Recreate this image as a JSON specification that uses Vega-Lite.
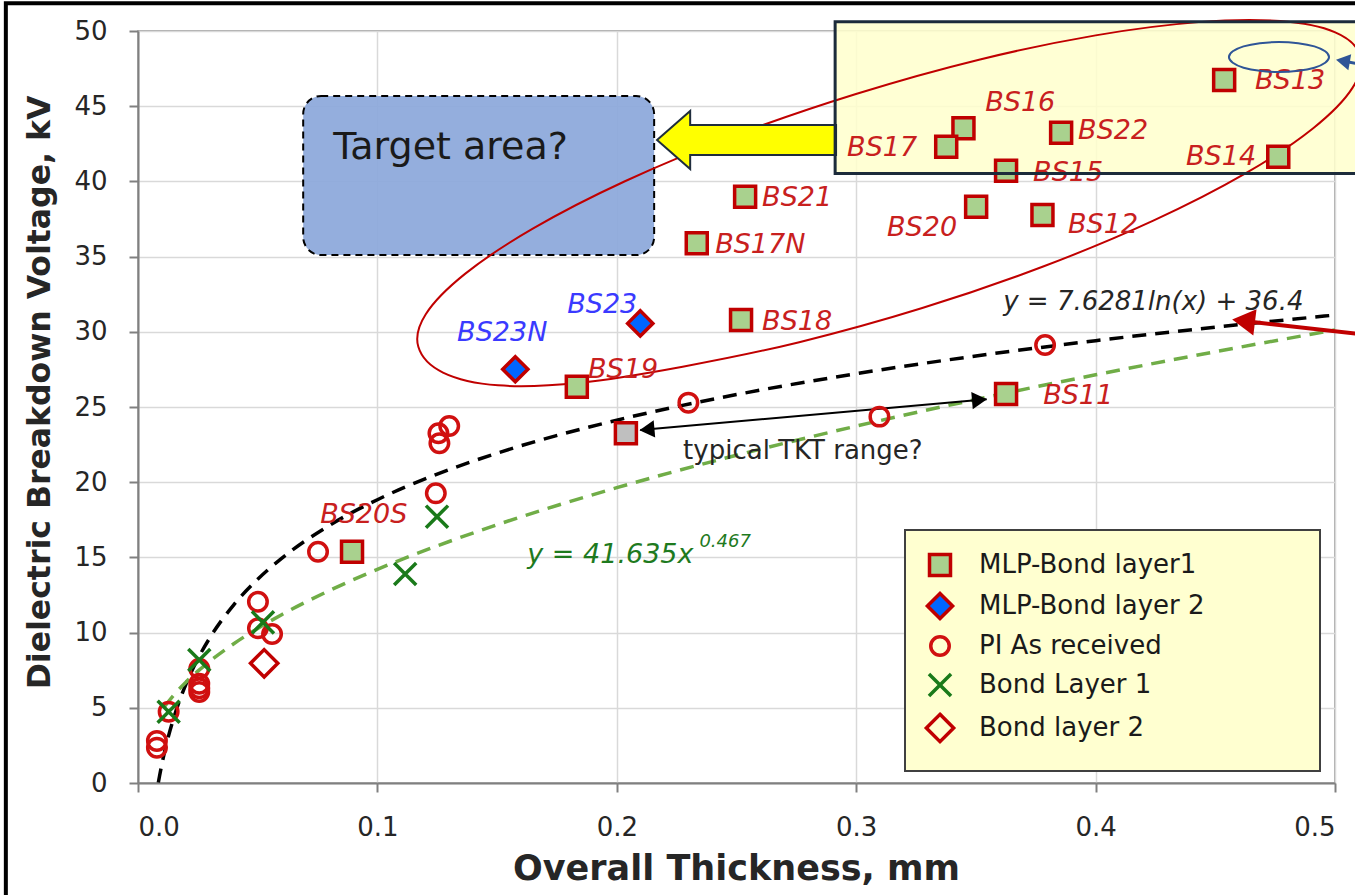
{
  "$schema": "https://vega.github.io/schema/vega-lite/v6.json",
  "width": 1197,
  "height": 752,
  "autosize": {"type": "none"},
  "padding": {"left": 138, "top": 31, "right": 20, "bottom": 112},
  "background": "white",
  "config": {
    "font": "DejaVu Sans",
    "view": {"stroke": "#8c8c8c", "strokeWidth": 1.5},
    "legend": {
      "orient": "none", "legendX": 767, "legendY": 499,
      "fillColor": "#ffffd0", "strokeColor": "#404040", "strokeWidth": 2,
      "padding": 22, "rowPadding": 3, "labelFontSize": 26, "labelColor": "#1a1a1a",
      "labelFont": "DejaVu Sans", "symbolSize": 441, "symbolStrokeWidth": 3.5, "labelOffset": 26,
      "labelLimit": 600
    }
  },
  "datasets": {
    "pts": [
      {"series": "MLP-Bond layer1", "id": "BS13", "x": 0.4537, "y": 46.74},
      {"series": "MLP-Bond layer1", "id": "BS16", "x": 0.3448, "y": 43.53},
      {"series": "MLP-Bond layer1", "id": "BS17", "x": 0.3376, "y": 42.31},
      {"series": "MLP-Bond layer1", "id": "BS22", "x": 0.3856, "y": 43.24},
      {"series": "MLP-Bond layer1", "id": "BS14", "x": 0.4763, "y": 41.64},
      {"series": "MLP-Bond layer1", "id": "BS15", "x": 0.3626, "y": 40.71},
      {"series": "MLP-Bond layer1", "id": "BS20", "x": 0.3501, "y": 38.32},
      {"series": "MLP-Bond layer1", "id": "BS12", "x": 0.3778, "y": 37.77},
      {"series": "MLP-Bond layer1", "id": "BS21", "x": 0.2536, "y": 38.98},
      {"series": "MLP-Bond layer1", "id": "BS17N", "x": 0.2334, "y": 35.88},
      {"series": "MLP-Bond layer1", "id": "BS18", "x": 0.2519, "y": 30.78},
      {"series": "MLP-Bond layer1", "id": "BS19", "x": 0.1833, "y": 26.35},
      {"series": "MLP-Bond layer1", "id": "BS11", "x": 0.3626, "y": 25.86},
      {"series": "MLP-Bond layer1", "id": "BS20S", "x": 0.0894, "y": 15.38},
      {"series": "MLP-Bond layer 2", "id": "BS23", "x": 0.2098, "y": 30.56},
      {"series": "MLP-Bond layer 2", "id": "BS23N", "x": 0.1576, "y": 27.51},
      {"series": "PI As received", "x": 0.0079, "y": 2.8},
      {"series": "PI As received", "x": 0.0079, "y": 2.35},
      {"series": "PI As received", "x": 0.0128, "y": 4.74},
      {"series": "PI As received", "x": 0.0256, "y": 7.6},
      {"series": "PI As received", "x": 0.0256, "y": 6.6},
      {"series": "PI As received", "x": 0.0256, "y": 6.3},
      {"series": "PI As received", "x": 0.0256, "y": 6.05},
      {"series": "PI As received", "x": 0.0501, "y": 12.05},
      {"series": "PI As received", "x": 0.0501, "y": 10.29},
      {"series": "PI As received", "x": 0.056, "y": 9.91},
      {"series": "PI As received", "x": 0.0752, "y": 15.38},
      {"series": "PI As received", "x": 0.1244, "y": 19.26},
      {"series": "PI As received", "x": 0.1259, "y": 22.59},
      {"series": "PI As received", "x": 0.1255, "y": 23.25},
      {"series": "PI As received", "x": 0.13, "y": 23.74},
      {"series": "PI As received", "x": 0.2299, "y": 25.29},
      {"series": "PI As received", "x": 0.3097, "y": 24.36},
      {"series": "PI As received", "x": 0.3789, "y": 29.12},
      {"series": "Bond Layer 1", "x": 0.0128, "y": 4.74},
      {"series": "Bond Layer 1", "x": 0.0256, "y": 8.18},
      {"series": "Bond Layer 1", "x": 0.0522, "y": 10.68},
      {"series": "Bond Layer 1", "x": 0.1116, "y": 13.9},
      {"series": "Bond Layer 1", "x": 0.1249, "y": 17.71},
      {"series": "Bond layer 2", "x": 0.0527, "y": 7.96}
    ],
    "tkt": [{"x": 0.2038, "y": 23.25}],
    "labels": [
      {"series": "MLP-Bond layer1", "text": "BS13", "x": 0.4666, "y": 46.68},
      {"series": "MLP-Bond layer1", "text": "BS16", "x": 0.3539, "y": 45.21},
      {"series": "MLP-Bond layer1", "text": "BS17", "x": 0.2962, "y": 42.22},
      {"series": "MLP-Bond layer1", "text": "BS22", "x": 0.3927, "y": 43.35},
      {"series": "MLP-Bond layer1", "text": "BS14", "x": 0.4378, "y": 41.62},
      {"series": "MLP-Bond layer1", "text": "BS15", "x": 0.3739, "y": 40.56},
      {"series": "MLP-Bond layer1", "text": "BS20", "x": 0.3129, "y": 36.9},
      {"series": "MLP-Bond layer1", "text": "BS12", "x": 0.3885, "y": 37.1},
      {"series": "MLP-Bond layer1", "text": "BS21", "x": 0.2607, "y": 38.9},
      {"series": "MLP-Bond layer1", "text": "BS17N", "x": 0.2411, "y": 35.77},
      {"series": "MLP-Bond layer1", "text": "BS18", "x": 0.2607, "y": 30.65},
      {"series": "MLP-Bond layer1", "text": "BS19", "x": 0.188, "y": 27.46},
      {"series": "MLP-Bond layer1", "text": "BS11", "x": 0.3781, "y": 25.73},
      {"series": "MLP-Bond layer1", "text": "BS20S", "x": 0.0761, "y": 17.82},
      {"series": "MLP-Bond layer 2", "text": "BS23", "x": 0.1793, "y": 31.78},
      {"series": "MLP-Bond layer 2", "text": "BS23N", "x": 0.1333, "y": 29.92}
    ],
    "fitlog": [
      {"x": 0.0085, "y": 0.03}, {"x": 0.009, "y": 0.468}, {"x": 0.01, "y": 1.271},
      {"x": 0.012, "y": 2.662}, {"x": 0.015, "y": 4.364}, {"x": 0.02, "y": 6.559},
      {"x": 0.025, "y": 8.261}, {"x": 0.03, "y": 9.651}, {"x": 0.04, "y": 11.846},
      {"x": 0.05, "y": 13.548}, {"x": 0.06, "y": 14.939}, {"x": 0.08, "y": 17.134},
      {"x": 0.1, "y": 18.836}, {"x": 0.125, "y": 20.538}, {"x": 0.15, "y": 21.929},
      {"x": 0.2, "y": 24.123}, {"x": 0.25, "y": 25.825}, {"x": 0.3, "y": 27.216},
      {"x": 0.35, "y": 28.392}, {"x": 0.4, "y": 29.41}, {"x": 0.45, "y": 30.309},
      {"x": 0.5, "y": 31.113}
    ],
    "fitpow": [
      {"x": 0.011, "y": 5.07}, {"x": 0.015, "y": 5.857}, {"x": 0.02, "y": 6.7},
      {"x": 0.025, "y": 7.436}, {"x": 0.03, "y": 8.095}, {"x": 0.04, "y": 9.26},
      {"x": 0.05, "y": 10.277}, {"x": 0.06, "y": 11.191}, {"x": 0.08, "y": 12.799},
      {"x": 0.1, "y": 14.206}, {"x": 0.125, "y": 15.767}, {"x": 0.15, "y": 17.17},
      {"x": 0.2, "y": 19.635}, {"x": 0.25, "y": 21.792}, {"x": 0.3, "y": 23.728},
      {"x": 0.35, "y": 25.502}, {"x": 0.4, "y": 27.142}, {"x": 0.45, "y": 28.674},
      {"x": 0.5, "y": 30.12}
    ],
    "ellipse": [
      {"i": 0, "x": 0.5104, "y": 48.4}, {"i": 1, "x": 0.5073, "y": 46.22},
      {"i": 2, "x": 0.4909, "y": 43.54}, {"i": 3, "x": 0.4626, "y": 40.53},
      {"i": 4, "x": 0.4241, "y": 37.39}, {"i": 5, "x": 0.3781, "y": 34.34},
      {"i": 6, "x": 0.3276, "y": 31.58}, {"i": 7, "x": 0.2762, "y": 29.31},
      {"i": 8, "x": 0.2275, "y": 27.68}, {"i": 9, "x": 0.1845, "y": 26.61},
      {"i": 10, "x": 0.1504, "y": 26.44}, {"i": 11, "x": 0.1274, "y": 27.29},
      {"i": 12, "x": 0.1171, "y": 29.0}, {"i": 13, "x": 0.1202, "y": 31.17},
      {"i": 14, "x": 0.1366, "y": 33.85}, {"i": 15, "x": 0.1649, "y": 36.86},
      {"i": 16, "x": 0.2034, "y": 40.01}, {"i": 17, "x": 0.2494, "y": 43.06},
      {"i": 18, "x": 0.2999, "y": 45.81}, {"i": 19, "x": 0.3513, "y": 48.09},
      {"i": 20, "x": 0.4, "y": 49.71}, {"i": 21, "x": 0.443, "y": 50.59},
      {"i": 22, "x": 0.4771, "y": 50.66}, {"i": 23, "x": 0.5001, "y": 49.91}
    ],
    "ellipse2": [
      {"i": 0, "x": 0.4975, "y": 48.27}, {"i": 1, "x": 0.4959, "y": 48.65},
      {"i": 2, "x": 0.4914, "y": 48.98}, {"i": 3, "x": 0.4846, "y": 49.19},
      {"i": 4, "x": 0.4766, "y": 49.27}, {"i": 5, "x": 0.4686, "y": 49.19},
      {"i": 6, "x": 0.4618, "y": 48.98}, {"i": 7, "x": 0.4573, "y": 48.65},
      {"i": 8, "x": 0.4557, "y": 48.27}, {"i": 9, "x": 0.4573, "y": 47.89},
      {"i": 10, "x": 0.4618, "y": 47.56}, {"i": 11, "x": 0.4686, "y": 47.35},
      {"i": 12, "x": 0.4766, "y": 47.27}, {"i": 13, "x": 0.4846, "y": 47.35},
      {"i": 14, "x": 0.4914, "y": 47.56}, {"i": 15, "x": 0.4959, "y": 47.89}
    ],
    "box": [{"x": 0.2912, "x2": 0.53, "y": 50.61, "y2": 40.53}],
    "target": [{"x": 0.069, "x2": 0.2156, "y": 45.68, "y2": 35.1}],
    "frame": [{"x": -0.0552, "x2": 0.53, "y": 51.84, "y2": -7.6}],
    "tktline": [{"x": 0.2098, "y": 23.47}, {"x": 0.3545, "y": 25.51}],
    "tktheadL": [{"x": 0.2126, "y": 23.5}],
    "tktheadR": [{"x": 0.3515, "y": 25.47}],
    "redline": [{"x": 0.4612, "y": 30.73}, {"x": 0.5104, "y": 29.85}],
    "redhead": [{"x": 0.4618, "y": 30.72}],
    "blueline": [{"x": 0.5033, "y": 48.0}, {"x": 0.5104, "y": 47.8}],
    "bluehead": [{"x": 0.5033, "y": 48.0}],
    "yarrow": [{"x": 0.2542, "y": 42.75}]
  },
  "encoding": {
    "x": {
      "field": "x", "type": "quantitative",
      "scale": {"domain": [0, 0.5], "nice": false, "zero": false},
      "axis": {
        "values": [0, 0.1, 0.2, 0.3, 0.4, 0.5], "format": ".1f",
        "grid": true, "gridColor": "#d9d9d9", "gridWidth": 1.5,
        "domainColor": "#808080", "domainWidth": 2,
        "tickColor": "#808080", "tickWidth": 2, "tickSize": 9,
        "labelFontSize": 26, "labelColor": "#262626", "labelPadding": 22,
        "title": "Overall Thickness, mm", "titleFontSize": 35, "titleFontWeight": "bold",
        "titleColor": "#262626", "titleX": 598, "titleY": 85, "titleBaseline": "middle", "titleAlign": "center"
      }
    },
    "y": {
      "field": "y", "type": "quantitative",
      "scale": {"domain": [0, 50], "nice": false, "zero": false},
      "axis": {
        "values": [0, 5, 10, 15, 20, 25, 30, 35, 40, 45, 50],
        "grid": true, "gridColor": "#d9d9d9", "gridWidth": 1.5,
        "domainColor": "#808080", "domainWidth": 2,
        "tickColor": "#808080", "tickWidth": 2, "tickSize": 9,
        "labelFontSize": 26, "labelColor": "#262626", "labelPadding": 22,
        "title": "Dielectric Breakdown Voltage, kV", "titleFontSize": 31.5, "titleFontWeight": "bold",
        "titleColor": "#262626", "titleX": -98, "titleY": 361, "titleBaseline": "middle", "titleAlign": "center", "titleAngle": -90
      }
    }
  },
  "layer": [
    {
      "data": {"name": "box"},
      "mark": {"type": "rect", "fill": "#ffffcc", "fillOpacity": 0.85, "strokeWidth": 0},
      "encoding": {"x2": {"field": "x2"}, "y2": {"field": "y2"}}
    },
    {
      "data": {"name": "target"},
      "mark": {"type": "rect", "fill": "#8eaadb", "fillOpacity": 0.95, "stroke": "#000000", "strokeWidth": 2, "strokeDash": [7, 5], "cornerRadius": 18},
      "encoding": {"x2": {"field": "x2"}, "y2": {"field": "y2"}}
    },
    {
      "data": {"values": [{"x": 0.0816, "y": 42.22, "t": "Target area?"}]},
      "mark": {"type": "text", "align": "left", "baseline": "middle", "fontSize": 38, "color": "#1a1a1a"},
      "encoding": {"text": {"field": "t"}}
    },
    {
      "data": {"name": "ellipse"},
      "mark": {"type": "line", "interpolate": "cardinal-closed", "stroke": "#c00000", "strokeWidth": 2},
      "encoding": {"order": {"field": "i", "type": "quantitative"}}
    },
    {
      "data": {"name": "fitlog"},
      "mark": {"type": "line", "stroke": "#000000", "strokeWidth": 3.5, "strokeDash": [14, 9], "interpolate": "monotone"},
      "encoding": {}
    },
    {
      "data": {"name": "fitpow"},
      "mark": {"type": "line", "stroke": "#70ad47", "strokeWidth": 3.5, "strokeDash": [14, 9], "interpolate": "monotone"},
      "encoding": {}
    },
    {
      "data": {"name": "tktline"},
      "mark": {"type": "line", "stroke": "#000000", "strokeWidth": 2},
      "encoding": {}
    },
    {
      "data": {"name": "tktheadL"},
      "mark": {"type": "point", "shape": "triangle-left", "filled": true, "fill": "#000000", "opacity": 1, "size": 300, "angle": -5},
      "encoding": {}
    },
    {
      "data": {"name": "tktheadR"},
      "mark": {"type": "point", "shape": "triangle-right", "filled": true, "fill": "#000000", "opacity": 1, "size": 300, "angle": -5},
      "encoding": {}
    },
    {
      "data": {"values": [{"x": 0.2277, "y": 22.07, "t": "typical TKT range?"}]},
      "mark": {"type": "text", "align": "left", "baseline": "middle", "fontSize": 26, "color": "#262626"},
      "encoding": {"text": {"field": "t"}}
    },
    {
      "data": {"name": "pts"},
      "mark": {"type": "point", "filled": true, "opacity": 1, "strokeWidth": 3.5, "size": 441},
      "encoding": {
        "shape": {
          "field": "series", "type": "nominal", "title": null,
          "scale": {
            "domain": ["MLP-Bond layer1", "MLP-Bond layer 2", "PI As received", "Bond Layer 1", "Bond layer 2"],
            "range": [
              "square",
              "M 0 -1.2 L 1.2 0 L 0 1.2 L -1.2 0 Z",
              "M -0.88 0 A 0.88 0.88 0 1 0 0.88 0 A 0.88 0.88 0 1 0 -0.88 0 Z",
              "M -1.05 -1.05 L 1.05 1.05 M -1.05 1.05 L 1.05 -1.05",
              "M 0 -1.3 L 1.3 0 L 0 1.3 L -1.3 0 Z"
            ]
          },
          "legend": {
            "labelExpr": "datum.label + '\u00a0\u00a0\u00a0\u00a0\u00a0\u00a0\u00a0\u00a0\u00a0\u2800'"
          }
        },
        "fill": {
          "field": "series", "type": "nominal", "title": null,
          "scale": {
            "domain": ["MLP-Bond layer1", "MLP-Bond layer 2", "PI As received", "Bond Layer 1", "Bond layer 2"],
            "range": ["#a9d18e", "#0066ff", "transparent", "transparent", "transparent"]
          },
          "legend": {
            "labelExpr": "datum.label + '\u00a0\u00a0\u00a0\u00a0\u00a0\u00a0\u00a0\u00a0\u00a0\u2800'"
          }
        },
        "stroke": {
          "field": "series", "type": "nominal", "title": null,
          "scale": {
            "domain": ["MLP-Bond layer1", "MLP-Bond layer 2", "PI As received", "Bond Layer 1", "Bond layer 2"],
            "range": ["#c00000", "#c00000", "#d01010", "#1a7a1a", "#c00000"]
          },
          "legend": {
            "labelExpr": "datum.label + '\u00a0\u00a0\u00a0\u00a0\u00a0\u00a0\u00a0\u00a0\u00a0\u2800'"
          }
        }
      }
    },
    {
      "data": {"name": "tkt"},
      "mark": {"type": "point", "shape": "square", "filled": true, "fill": "#bfbfbf", "stroke": "#c00000", "strokeWidth": 3.5, "opacity": 1, "size": 441},
      "encoding": {}
    },
    {
      "data": {"name": "labels"},
      "mark": {"type": "text", "align": "left", "baseline": "middle", "fontSize": 27, "fontStyle": "italic"},
      "encoding": {
        "text": {"field": "text"},
        "color": {
          "field": "series", "type": "nominal",
          "scale": {"domain": ["MLP-Bond layer1", "MLP-Bond layer 2"], "range": ["#c8201e", "#3a3aff"]},
          "legend": null
        }
      }
    },
    {
      "data": {"values": [{"x": 0.3614, "y": 31.98, "t": "y = 7.6281ln(x) + 36.4"}]},
      "mark": {"type": "text", "align": "left", "baseline": "middle", "fontSize": 26, "fontStyle": "italic", "color": "#262626"},
      "encoding": {"text": {"field": "t"}}
    },
    {
      "data": {"values": [{"x": 0.1626, "y": 15.16, "t": "y = 41.635x"}]},
      "mark": {"type": "text", "align": "left", "baseline": "middle", "fontSize": 27, "fontStyle": "italic", "color": "#1e7a1e"},
      "encoding": {"text": {"field": "t"}}
    },
    {
      "data": {"values": [{"x": 0.2345, "y": 16.0, "t": "0.467"}]},
      "mark": {"type": "text", "align": "left", "baseline": "middle", "fontSize": 18, "fontStyle": "italic", "color": "#1e7a1e"},
      "encoding": {"text": {"field": "t"}}
    },
    {
      "data": {"name": "ellipse2"},
      "mark": {"type": "line", "interpolate": "cardinal-closed", "stroke": "#2f5597", "strokeWidth": 2},
      "encoding": {"order": {"field": "i", "type": "quantitative"}}
    },
    {
      "data": {"name": "redline"},
      "mark": {"type": "line", "stroke": "#c00000", "strokeWidth": 4},
      "encoding": {}
    },
    {
      "data": {"name": "redhead"},
      "mark": {"type": "point", "shape": "triangle-left", "filled": true, "fill": "#c00000", "opacity": 1, "size": 700, "angle": 7},
      "encoding": {}
    },
    {
      "data": {"name": "blueline"},
      "mark": {"type": "line", "stroke": "#2f5597", "strokeWidth": 3},
      "encoding": {}
    },
    {
      "data": {"name": "bluehead"},
      "mark": {"type": "point", "shape": "triangle-left", "filled": true, "fill": "#2f5597", "opacity": 1, "size": 260, "angle": 10},
      "encoding": {}
    },
    {
      "data": {"name": "yarrow"},
      "mark": {"type": "point", "shape": "M -1 0 L -0.63 -0.324 L -0.63 -0.168 L 1 -0.168 L 1 0.168 L -0.63 0.168 L -0.63 0.324 Z", "filled": true, "fill": "#ffff00", "stroke": "#1f2d3d", "strokeWidth": 2, "opacity": 1, "size": 32041},
      "encoding": {}
    },
    {
      "data": {"name": "box"},
      "mark": {"type": "rect", "fillOpacity": 0, "stroke": "#1c2b3b", "strokeWidth": 3},
      "encoding": {"x2": {"field": "x2"}, "y2": {"field": "y2"}}
    },
    {
      "data": {"name": "frame"},
      "mark": {"type": "rect", "fillOpacity": 0, "stroke": "#000000", "strokeWidth": 4},
      "encoding": {"x2": {"field": "x2"}, "y2": {"field": "y2"}}
    }
  ]
}
